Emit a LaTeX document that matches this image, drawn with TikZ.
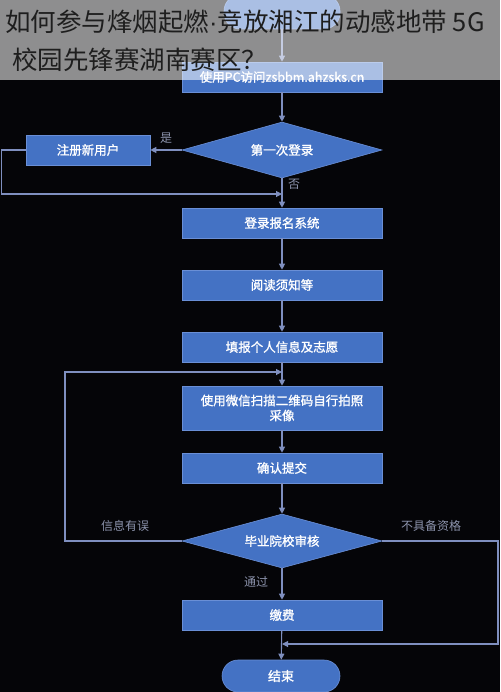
\documentclass[tikz,border=0pt]{standalone}
\usepackage{fontspec}
\setmainfont{Noto Sans CJK SC}
\newfontfamily\boxfont{Noto Sans CJK SC}[FakeBold=1.3]
\newfontfamily\dotfont{Liberation Sans}
\usetikzlibrary{shapes.geometric,arrows.meta}
\definecolor{bg}{HTML}{050508}
\definecolor{boxblue}{HTML}{4472C4}
\definecolor{boxedge}{HTML}{6A8FD6}
\definecolor{lineclr}{HTML}{7F8FBF}
\definecolor{lblclr}{HTML}{8C93AC}
\definecolor{titleclr}{HTML}{1E1E1E}
\tikzset{
  procbox/.style={rectangle, fill=boxblue, draw=boxedge, line width=0.6pt, minimum width=200pt, minimum height=30pt, inner sep=2pt, text=white, font=\boxfont\fontsize{12.5}{15}\selectfont, align=center},
  decbox/.style={diamond, fill=boxblue, draw=boxedge, line width=0.6pt, aspect=3.6, inner sep=0pt, text=white, font=\boxfont\fontsize{12.5}{15}\selectfont},
  termbox/.style={rectangle, rounded corners=16pt, fill=boxblue, draw=boxedge, line width=0.6pt, text=white, font=\boxfont\fontsize{13}{15}\selectfont},
  conn/.style={draw=lineclr, line width=1.1pt, -{Triangle[width=6pt,length=6pt]}},
  lbl/.style={text=lblclr, font=\fontsize{12}{14}\selectfont, inner sep=0pt},
  ttl/.style={anchor=west, text=titleclr, font=\fontsize{25.5}{28}\selectfont, inner sep=0pt},
}
\begin{document}
\begin{tikzpicture}[x=1pt,y=-1pt]
\useasboundingbox (0,0) rectangle (500,692);
\fill[bg] (0,0) rectangle (500,692);

% nodes
\node[termbox, minimum width=116pt, minimum height=34pt] (start) at (282,12) {};
\node[procbox] (b1) at (282,77) {使用PC访问zsbbm.ahzsks.cn};
\node[decbox, minimum width=200pt, minimum height=56pt] (d1) at (282,150) {第一次登录};
\node[procbox, minimum width=124pt] (reg) at (88,150) {注册新用户};
\node[procbox] (b2) at (282,223) {登录报名系统};
\node[procbox] (b3) at (282,285) {阅读须知等};
\node[procbox] (b4) at (282,347) {填报个人信息及志愿};
\node[procbox, minimum height=44pt] (b5) at (282,408) {使用微信扫描二维码自行拍照\\采像};
\node[procbox] (b6) at (282,468) {确认提交};
\node[decbox, minimum width=200pt, minimum height=54pt] (d2) at (282,541) {毕业院校审核};
\node[procbox] (b7) at (282,615) {缴费};
\node[termbox, minimum width=118pt, minimum height=32pt] (end) at (281,676) {结束};

% helper coordinates
\coordinate (j1) at (282,194);
\coordinate (l1) at (1.5,150);
\coordinate (j2) at (282,372);
\coordinate (l2) at (65,541);
\coordinate (j3) at (282,644);
\coordinate (r3) at (498,541);

% connectors
\draw[conn] (start) -- (b1);
\draw[conn] (b1) -- (d1);
\draw[conn] (d1.west) -- (reg.east);
\draw[conn] (reg.west) -- (l1) |- (j1);
\draw[conn] (d1.south) -- (b2);
\draw[conn] (b2) -- (b3);
\draw[conn] (b3) -- (b4);
\draw[conn] (b4) -- (b5);
\draw[conn] (b5) -- (b6);
\draw[conn] (b6) -- (d2.north);
\draw[conn] (d2.south) -- (b7);
\draw[conn] (b7) -- (end);
\draw[conn] (d2.west) -- (l2) |- (j2);
\draw[conn] (d2.east) -- (r3) |- (j3);

% labels
\node[lbl] (lyes) at (166,138) {是};
\node[lbl] (lno) at (294,184) {否};
\node[lbl] (lerr) at (125,526) {信息有误};
\node[lbl] (lnq) at (431,526) {不具备资格};
\node[lbl] (lpass) at (256,582) {通过};

% title overlay
\fill[white, opacity=0.55] (0,0) rectangle (500,80);
\node[ttl] (t1) at (5,22) {如何参与烽烟起燃{\dotfont·}竞放湘江的动感地带 5G};
\node[ttl] (t2) at (12,60) {校园先锋赛湖南赛区？};
\end{tikzpicture}
\end{document}
